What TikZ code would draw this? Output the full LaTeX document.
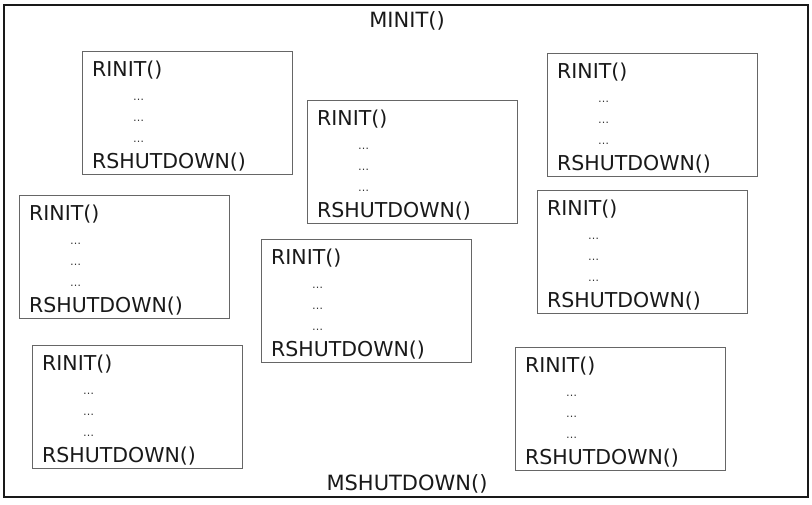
\documentclass[tikz,border=0pt]{standalone}
\usepackage{fontspec}
\setmainfont{DejaVu Sans}
\usetikzlibrary{calc}
\tikzset{
  rbox/.style={draw=black!60, line width=1.3pt, anchor=north west, minimum width=210pt, minimum height=123pt, inner sep=0pt},
  label/.style={anchor=base west, inner sep=0pt, font=\fontsize{20.5}{22}\selectfont, text=black!90},
  dots/.style={anchor=base west, inner sep=0pt, font=\fontsize{11}{12}\selectfont, text=black!80},
  title/.style={anchor=base, inner sep=0pt, font=\fontsize{21}{23}\selectfont, text=black!90},
}
\newcommand\rblock[3]{%
  \node[rbox] (#1) at (#2,#3) {};
  \node[label] (#1-init) at ($(#1.north west)+(10pt,-25pt)$) {RINIT()};
  \node[dots] (#1-d1) at ($(#1.north west)+(51pt,-49pt)$) {…};
  \node[dots] (#1-d2) at ($(#1.north west)+(51pt,-70pt)$) {…};
  \node[dots] (#1-d3) at ($(#1.north west)+(51pt,-91pt)$) {…};
  \node[label] (#1-shut) at ($(#1.north west)+(10pt,-117pt)$) {RSHUTDOWN()};
}
\begin{document}
\begin{tikzpicture}[x=1pt,y=-1pt]
\useasboundingbox (0,0) rectangle (812,504);
\draw[line width=2.6pt, black!90] (4,5) rectangle (808,497);
\node[title] (minit) at (407,27) {MINIT()};
\node[title] (mshut) at (407,490) {MSHUTDOWN()};
\rblock{b1}{82}{51}
\rblock{b2}{307}{100}
\rblock{b3}{547}{53}
\rblock{b4}{19}{195}
\rblock{b5}{261}{239}
\rblock{b6}{537}{190}
\rblock{b7}{32}{345}
\rblock{b8}{515}{347}
\end{tikzpicture}
\end{document}
